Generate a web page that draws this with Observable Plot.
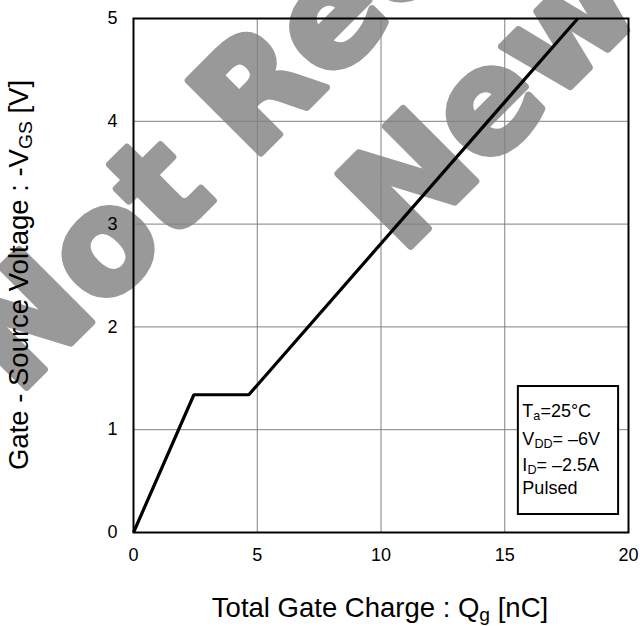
<!DOCTYPE html>
<html><head><meta charset="utf-8">
<script src="https://cdn.jsdelivr.net/npm/d3@7"></script>
<script src="https://cdn.jsdelivr.net/npm/@observablehq/plot@0.6"></script>
<style>
body{margin:0;background:#fff}
#chart{width:640px;height:626px}
</style>
</head><body><div id="chart"></div>
<script>
// Gate charge curve
const charge = [0, 2.44, 4.66, 17.95];   // Qg [nC]
const voltage = [0, 1.34, 1.34, 5.0];    // -VGS [V]
const xTicks = [0, 5, 10, 15, 20];
const yTicks = [0, 1, 2, 3, 4, 5];
const watermarkLines = ["Not Recommended for", "New Designs"];

const W = 640, H = 626, ML = 133, MR = 12, MT = 18, MB = 94;
const data = charge.map((q, i) => ({q, v: voltage[i]}));
const font = "'Liberation Sans', Arial, Helvetica, sans-serif";
const wmStyle = {frameAnchor: "top-left", rotate: -45, textAnchor: "start", lineAnchor: "bottom",
  fontSize: 141, fontWeight: "bold", fontFamily: "'DejaVu Sans', sans-serif",
  fill: "#999999", stroke: "#999999", strokeWidth: 7};

const plot = Plot.plot({
  width: W, height: H, marginLeft: ML, marginRight: MR, marginTop: MT, marginBottom: MB,
  style: {fontFamily: font, fontSize: "18px", color: "#000", background: "#fff", overflow: "hidden"},
  x: {domain: [0, 20], ticks: xTicks},
  y: {domain: [0, 5], ticks: yTicks},
  marks: [
    Plot.text([watermarkLines[0]], {...wmStyle, text: d => d, dx: 17 - ML, dy: 396 - MT}),
    Plot.text([watermarkLines[1]], {...wmStyle, text: d => d, dx: 401 - ML, dy: 255 - MT}),
    Plot.gridX(xTicks, {stroke: "#808080", strokeOpacity: 1, strokeWidth: 1}),
    Plot.gridY(yTicks, {stroke: "#808080", strokeOpacity: 1, strokeWidth: 1}),
    Plot.axisX(xTicks, {tickSize: 0, tickPadding: 16, label: null, fontSize: 18, tickFormat: d3.format("d")}),
    Plot.axisY(yTicks, {tickSize: 0, tickPadding: 16, label: null, fontSize: 18, tickFormat: d3.format("d")}),
    Plot.line(data, {x: "q", y: "v", stroke: "#000", strokeWidth: 3.2, strokeLinejoin: "miter", strokeLinecap: "butt"}),
    Plot.frame({stroke: "#000", strokeWidth: 2}),
    Plot.rect([0], {x1: 15.55, x2: 19.6, y1: 0.175, y2: 1.42, fill: "#fff", stroke: "#000", strokeWidth: 2})
  ]
});

document.getElementById("chart").appendChild(plot);
const svg = d3.select(plot);
const sx = plot.scale("x");

function richText(sel, parts, size) {
  parts.forEach(([t, sub]) => {
    const ts = sel.append("tspan").text(t);
    if (sub) ts.attr("font-size", size * 0.7).attr("baseline-shift", "-22%");
  });
}
const xl = svg.append("text").attr("x", 380).attr("y", 617).attr("text-anchor", "middle")
  .attr("font-size", 27.5).attr("font-family", font).attr("fill", "#000");
richText(xl, [["Total Gate Charge : Q"], ["g", true], [" [nC]"]], 27.5);

const yl = svg.append("text").attr("transform", "translate(28,275) rotate(-90)").attr("text-anchor", "middle")
  .attr("font-size", 27.5).attr("font-family", font).attr("fill", "#000");
richText(yl, [["Gate - Source Voltage : -V"], ["GS", true], [" [V]"]], 27.5);

const cond = [
  [["T"], ["a", true], ["=25°C"]],
  [["V"], ["DD", true], ["= \u20136V"]],
  [["I"], ["D", true], ["= \u20132.5A"]],
  [["Pulsed"]]
];
const baselines = [417, 445, 471, 494];
cond.forEach((parts, i) => {
  const t = svg.append("text").attr("x", sx.apply(15.55) + 4.5).attr("y", baselines[i])
    .attr("text-anchor", "start")
    .attr("font-size", 18).attr("font-family", font).attr("fill", "#000");
  richText(t, parts, 18);
});
</script>
</body></html>
